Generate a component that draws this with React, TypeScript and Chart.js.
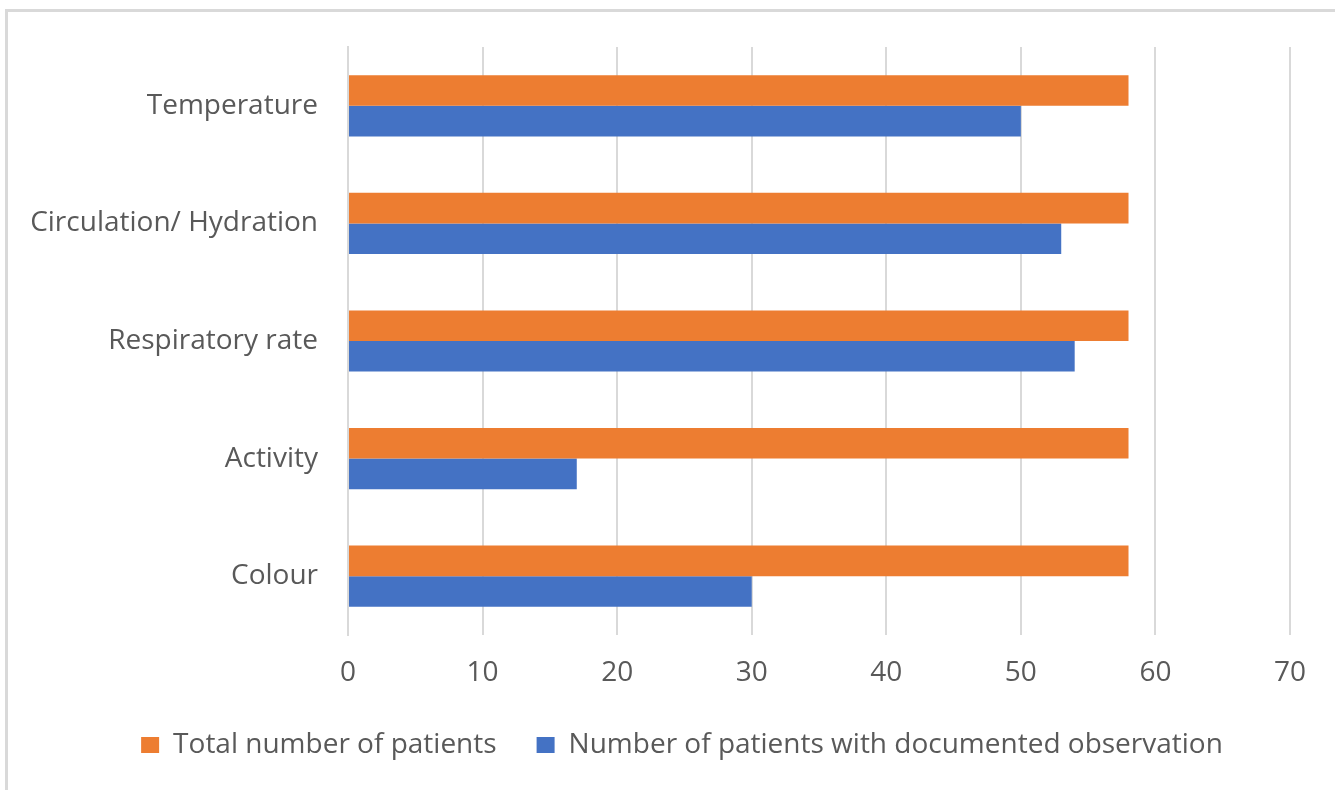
import React, { useEffect, useRef } from "react";
import { Chart, registerables } from "chart.js";

Chart.register(...registerables);

const categories = ["Temperature", "Circulation/ Hydration", "Respiratory rate", "Activity", "Colour"];
const totalPatients = [58, 58, 58, 58, 58];
const documentedPatients = [50, 53, 54, 17, 30];
const seriesNames = ["Total number of patients", "Number of patients with documented observation"];
const xMin = 0;
const xMax = 70;
const xStep = 10;

const FONT = "'Open Sans', 'Noto Sans', sans-serif";
const TEXT = "#595959";
const GRID = "#d9d9d9";
const FS = 28;
const LEGEND_SHIFT = 32;

const shiftLegend = {
  id: "shiftLegend",
  afterLayout(chart: any) {
    const l = chart.legend;
    if (l) {
      l.left += LEGEND_SHIFT;
      l.right += LEGEND_SHIFT;
    }
  },
};

export default function App() {
  const ref = useRef<HTMLCanvasElement | null>(null);

  useEffect(() => {
    if (!ref.current) return;
    const chart = new Chart(ref.current, {
      type: "bar",
      data: {
        labels: categories,
        datasets: [
          {
            label: seriesNames[0],
            data: totalPatients,
            backgroundColor: "#ED7D31",
            categoryPercentage: 0.52,
            barPercentage: 1,
          },
          {
            label: seriesNames[1],
            data: documentedPatients,
            backgroundColor: "#4472C4",
            categoryPercentage: 0.52,
            barPercentage: 1,
          },
        ],
      },
      options: {
        indexAxis: "y",
        responsive: false,
        animation: false,
        layout: { padding: { left: 10, right: 45, top: 47, bottom: 21 } },
        scales: {
          x: {
            min: xMin,
            max: xMax,
            ticks: { stepSize: xStep, color: TEXT, font: { family: FONT, size: FS }, padding: 21 },
            grid: { color: GRID, lineWidth: 2, drawTicks: false },
            border: { display: false },
            afterFit: (s: any) => { s.height = 56; },
          },
          y: {
            ticks: { color: TEXT, font: { family: FONT, size: FS }, padding: 30 },
            grid: { display: false, drawTicks: false },
            border: { display: true, color: GRID, width: 2 },
            afterFit: (s: any) => { s.width = 338; },
          },
        },
        plugins: {
          legend: {
            position: "bottom",
            labels: {
              color: TEXT,
              font: { family: FONT, size: FS },
              boxWidth: 18,
              boxHeight: 16,
              padding: 40,
            },
          },
          tooltip: { enabled: false },
        },
      },
      plugins: [shiftLegend],
    });
    return () => chart.destroy();
  }, []);

  return (
    <div style={{ position: "absolute", left: 0, top: 0, width: 1335, height: 790, background: "#fff" }}>
      <div
        style={{
          position: "absolute",
          left: 5,
          top: 9,
          width: 1330,
          height: 781,
          borderTop: "3px solid #d9d9d9",
          borderLeft: "3px solid #d9d9d9",
        }}
      />
      <canvas ref={ref} width={1335} height={790} style={{ position: "absolute", left: 0, top: 0 }} />
    </div>
  );
}
